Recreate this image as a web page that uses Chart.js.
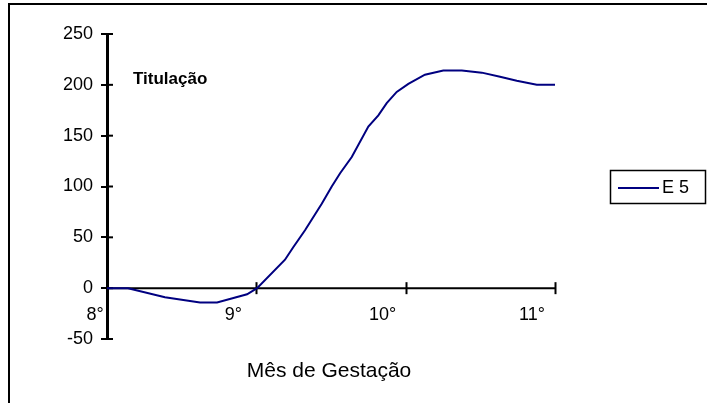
<!DOCTYPE html>
<html>
<head>
<meta charset="utf-8">
<script src="https://cdn.jsdelivr.net/npm/chart.js@4/dist/chart.umd.min.js"></script>
<style>
  html, body { margin: 0; padding: 0; background: #fff; }
  #wrap { width: 707px; height: 403px; position: relative; }
</style>
</head>
<body>
<div id="wrap"><canvas id="c"></canvas></div>
<script>
// Month of gestation (x) and titration value (y) for series E 5
const gestMonth = [8.000, 8.141, 8.388, 8.623, 8.737, 8.938, 9.005, 9.192, 9.246, 9.326,
                   9.438, 9.505, 9.561, 9.639, 9.750, 9.817, 9.873, 9.940, 10.018, 10.129,
                   10.252, 10.376, 10.510, 10.632, 10.744, 10.878, 11.000];
const titer = [0, 0, -9, -14, -14, -6, 0, 28, 40, 57,
               83, 100, 113, 129, 159, 170, 182, 193, 201, 210,
               214, 214, 212, 208, 204, 200, 200];

const monthTicks = [8, 9, 10, 11];
const monthLabels = ['8°', '9°', '10°', '11°'];
const seriesName = 'E 5';
const chartLabel = 'Titulação';
const xTitle = 'Mês de Gestação';

const FONT = '"Liberation Sans", Arial, Helvetica, sans-serif';
const LINE_COLOR = '#000080';

const points = gestMonth.map((m, i) => ({ x: m, y: titer[i] }));

const decor = {
  id: 'decor',
  beforeDraw(chart) {
    const c = chart.ctx;
    c.save();
    c.fillStyle = '#fff';
    c.fillRect(0, 0, chart.width, chart.height);
    c.strokeStyle = '#000';
    c.lineWidth = 2;
    c.strokeRect(9, 4, chart.width + 40, chart.height + 40);
    c.restore();
  },
  beforeDatasetsDraw(chart) {
    const c = chart.ctx;
    const xs = chart.scales.x, ys = chart.scales.y;
    const y0 = ys.getPixelForValue(0);
    c.save();
    c.strokeStyle = '#000';
    // horizontal axis through zero
    c.lineWidth = 2;
    c.beginPath();
    c.moveTo(xs.left, y0);
    c.lineTo(xs.right, y0);
    c.stroke();
    // crossing tick marks on the month axis
    monthTicks.forEach(m => {
      const px = Math.round(xs.getPixelForValue(m)) + 0.5;
      c.beginPath();
      c.moveTo(px, y0 - 6);
      c.lineTo(px, y0 + 6);
      c.stroke();
    });
    // inner half of the value axis tick marks
    ys.ticks.forEach(t => {
      const py = ys.getPixelForValue(t.value);
      c.beginPath();
      c.moveTo(ys.right, py);
      c.lineTo(ys.right + 6, py);
      c.stroke();
    });
    c.restore();
  },
  afterDraw(chart) {
    const c = chart.ctx;
    const xs = chart.scales.x, ys = chart.scales.y;
    const area = chart.chartArea;
    const y0 = ys.getPixelForValue(0);
    c.save();
    c.fillStyle = '#000';
    // month labels, set left of each tick; first one kept clear of the value axis
    c.font = '18px ' + FONT;
    c.textAlign = 'center';
    c.textBaseline = 'middle';
    monthTicks.forEach((m, i) => {
      let px = xs.getPixelForValue(m) - 23;
      if (i === 0) px = Math.max(px, area.left - 12);
      c.fillText(monthLabels[i], px, y0 + 27);
    });
    // axis title
    c.font = '21px ' + FONT;
    c.textBaseline = 'alphabetic';
    c.fillText(xTitle, (area.left + area.right) / 2 - 2, 377);
    // chart label
    c.font = 'bold 17px ' + FONT;
    c.textAlign = 'left';
    c.fillText(chartLabel, 133, 84);
    // legend box
    c.lineWidth = 1.5;
    c.strokeStyle = '#000';
    c.strokeRect(610.5, 170.5, 95, 33);
    const ds = chart.data.datasets[0];
    c.strokeStyle = ds.borderColor;
    c.lineWidth = 2;
    c.beginPath();
    c.moveTo(618, 188);
    c.lineTo(659, 188);
    c.stroke();
    c.fillStyle = '#000';
    c.font = '18px ' + FONT;
    c.textBaseline = 'middle';
    c.fillText(ds.label, 662, 188);
    c.restore();
  }
};

new Chart(document.getElementById('c'), {
  type: 'line',
  data: {
    datasets: [{
      label: seriesName,
      data: points,
      borderColor: LINE_COLOR,
      backgroundColor: LINE_COLOR,
      borderWidth: 2,
      pointRadius: 0,
      tension: 0,
      fill: false
    }]
  },
  options: {
    responsive: true,
    maintainAspectRatio: false,
    animation: false,
    layout: { padding: { left: 0, top: 34, right: 152, bottom: 64 } },
    plugins: {
      legend: { display: false },
      tooltip: { enabled: false },
      title: { display: false }
    },
    scales: {
      x: { type: 'linear', min: 8, max: 11, display: false },
      y: {
        type: 'linear',
        min: -50,
        max: 250,
        ticks: { stepSize: 50, color: '#000', padding: 8, font: { family: FONT, size: 18 } },
        grid: { drawOnChartArea: false, drawTicks: true, tickLength: 6, color: '#000', lineWidth: 2 },
        border: { display: true, color: '#000', width: 3 },
        afterFit(scale) { scale.width = 107; }
      }
    }
  },
  plugins: [decor]
});
</script>
</body>
</html>
